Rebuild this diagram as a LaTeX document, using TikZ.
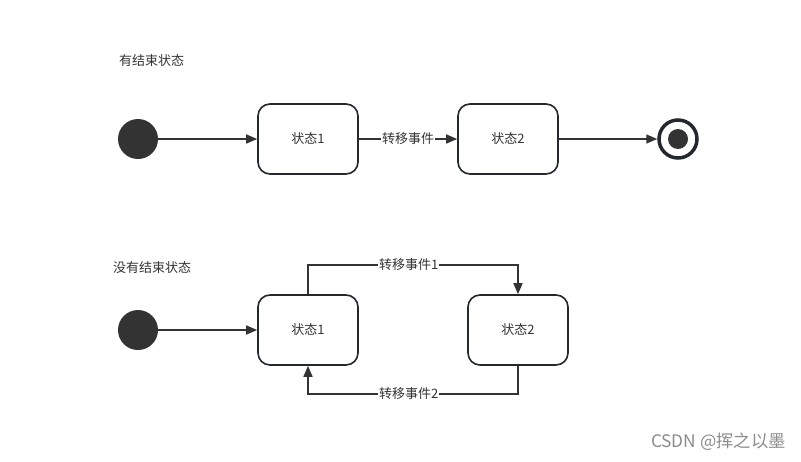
\documentclass[tikz,border=0pt]{standalone}
\usepackage{fontspec}
\setmainfont{Noto Sans CJK SC}
\usetikzlibrary{arrows.meta}
\definecolor{edgec}{HTML}{333333}
\definecolor{boxc}{HTML}{23272E}
\definecolor{txtc}{HTML}{333333}
\tikzset{
  statebox/.style={draw=boxc, line width=1.6pt, rounded corners=12pt, minimum width=100pt, minimum height=70pt, fill=white, text=txtc, font=\fontsize{13}{15}\selectfont, inner sep=0pt},
  initstate/.style={circle, fill=edgec, minimum size=40pt, inner sep=0pt},
  trans/.style={draw=edgec, line width=1.5pt, -{Triangle[length=11pt,width=9pt]}},
  elabel/.style={fill=white, text=txtc, font=\fontsize{13}{15}\selectfont, inner sep=1pt},
  title/.style={text=txtc, font=\fontsize{13}{15}\selectfont, anchor=west, inner sep=0pt}
}
\begin{document}
\begin{tikzpicture}[x=1pt,y=-1pt]
\useasboundingbox (0,0) rectangle (801,461);
% top
\node[title] (t1) at (119,61) {有结束状态};
\node[initstate] (i1) at (138,139) {};
\node[statebox] (a1) at (308,139) {状态1};
\node[statebox] (a2) at (508,139) {状态2};
\node[circle, draw=boxc, line width=3.5pt, minimum size=38pt, inner sep=0pt] (f1) at (678,139) {};
\node[circle, fill=edgec, minimum size=20pt, inner sep=0pt] (f1in) at (678,139) {};
\draw[trans] (i1) -- (a1);
\draw[trans] (a1) -- node[elabel] (l1) {转移事件} (a2);
\draw[trans] (a2) -- (f1.west);
% bottom
\node[title] (t2) at (113,268) {没有结束状态};
\node[initstate] (i2) at (138,330) {};
\node[statebox] (b1) at (308,330) {状态1};
\node[statebox] (b2) at (518,330) {状态2};
\draw[trans] (i2) -- (b1);
\coordinate (c1) at (308,265);
\coordinate (c2) at (518,265);
\coordinate (c3) at (518,394);
\coordinate (c4) at (308,394);
\draw[trans] (b1.north) -- (c1) -- node[elabel, pos=0.48] (l2) {转移事件1} (c2) -- (b2.north);
\draw[trans] (b2.south) -- (c3) -- node[elabel, pos=0.52] (l3) {转移事件2} (c4) -- (b1.south);
% watermark
\node[text=black!45, font=\fontsize{17.3}{19}\selectfont, anchor=east, inner sep=0pt] (wm) at (786,442) {CSDN @挥之以墨};
\end{tikzpicture}
\end{document}
